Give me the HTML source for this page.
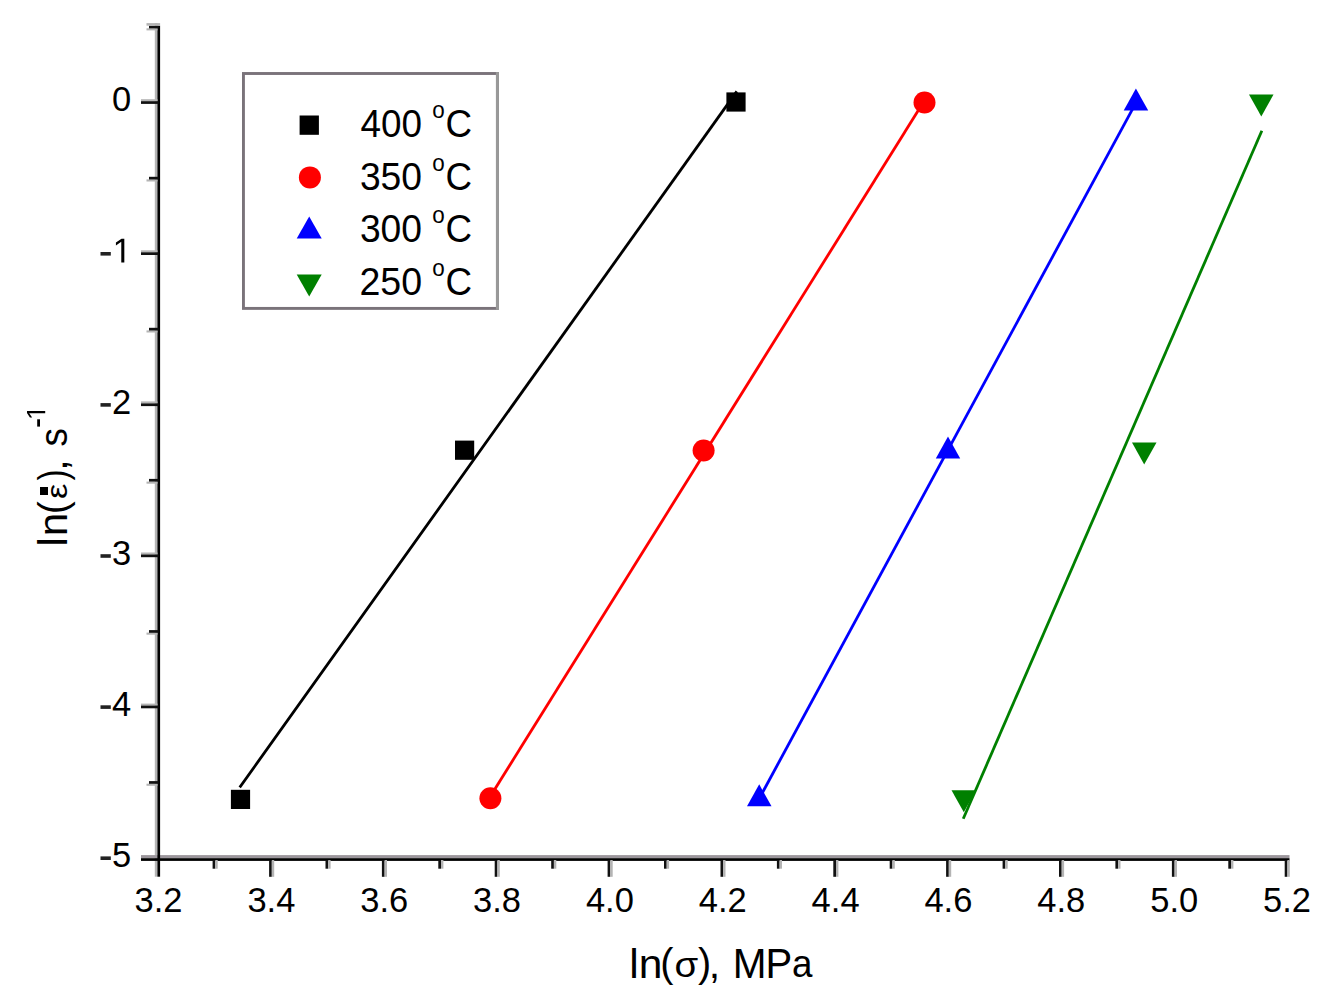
<!DOCTYPE html>
<html><head><meta charset="utf-8">
<style>
html,body{margin:0;padding:0;background:#fff;}
body{width:1330px;height:999px;overflow:hidden;position:relative;}
svg{position:absolute;left:0;top:0;}
text{font-family:"Liberation Sans",sans-serif;fill:#000;}
</style></head>
<body>
<svg width="1330" height="999" viewBox="0 0 1330 999">
<rect x="0" y="0" width="1330" height="999" fill="#fff"/>
<rect x="154.8" y="23" width="2.6" height="853.7" fill="#b4b4b4"/>
<rect x="141" y="855.1" width="1148.5" height="3.1" fill="#9c969c"/>
<rect x="157.4" y="25.7" width="2.7" height="851" fill="#000"/>
<rect x="141" y="858.2" width="1148.5" height="2.7" fill="#000"/>
<rect x="141" y="99.2" width="16.5" height="2.1" fill="#b4b4b4"/>
<rect x="141" y="101.2" width="17.5" height="2.7" fill="#111"/>
<rect x="141" y="250.3" width="16.5" height="2.1" fill="#b4b4b4"/>
<rect x="141" y="252.3" width="17.5" height="2.7" fill="#111"/>
<rect x="141" y="401.4" width="16.5" height="2.1" fill="#b4b4b4"/>
<rect x="141" y="403.4" width="17.5" height="2.7" fill="#111"/>
<rect x="141" y="552.5" width="16.5" height="2.1" fill="#b4b4b4"/>
<rect x="141" y="554.5" width="17.5" height="2.7" fill="#111"/>
<rect x="141" y="703.6" width="16.5" height="2.1" fill="#b4b4b4"/>
<rect x="141" y="705.6" width="17.5" height="2.7" fill="#111"/>
<rect x="146.5" y="28.3" width="11" height="2.1" fill="#b4b4b4"/>
<rect x="149" y="25.7" width="9.5" height="2.7" fill="#111"/>
<rect x="146.5" y="179.4" width="11" height="2.1" fill="#b4b4b4"/>
<rect x="149" y="176.8" width="9.5" height="2.7" fill="#111"/>
<rect x="146.5" y="330.4" width="11" height="2.1" fill="#b4b4b4"/>
<rect x="149" y="327.8" width="9.5" height="2.7" fill="#111"/>
<rect x="146.5" y="481.6" width="11" height="2.1" fill="#b4b4b4"/>
<rect x="149" y="478.9" width="9.5" height="2.7" fill="#111"/>
<rect x="146.5" y="632.6" width="11" height="2.1" fill="#b4b4b4"/>
<rect x="149" y="630.1" width="9.5" height="2.7" fill="#111"/>
<rect x="146.5" y="783.7" width="11" height="2.1" fill="#b4b4b4"/>
<rect x="149" y="781.1" width="9.5" height="2.7" fill="#111"/>
<rect x="146.5" y="23.1" width="13.6" height="2.6" fill="#b4b4b4"/>
<rect x="269.1" y="860" width="2.7" height="16.8" fill="#111"/>
<rect x="271.8" y="860" width="2.4" height="16.8" fill="#b4b4b4"/>
<rect x="381.9" y="860" width="2.7" height="16.8" fill="#111"/>
<rect x="384.6" y="860" width="2.4" height="16.8" fill="#b4b4b4"/>
<rect x="494.7" y="860" width="2.7" height="16.8" fill="#111"/>
<rect x="497.4" y="860" width="2.4" height="16.8" fill="#b4b4b4"/>
<rect x="607.6" y="860" width="2.7" height="16.8" fill="#111"/>
<rect x="610.3" y="860" width="2.4" height="16.8" fill="#b4b4b4"/>
<rect x="720.5" y="860" width="2.7" height="16.8" fill="#111"/>
<rect x="723.1" y="860" width="2.4" height="16.8" fill="#b4b4b4"/>
<rect x="833.3" y="860" width="2.7" height="16.8" fill="#111"/>
<rect x="836.0" y="860" width="2.4" height="16.8" fill="#b4b4b4"/>
<rect x="946.1" y="860" width="2.7" height="16.8" fill="#111"/>
<rect x="948.8" y="860" width="2.4" height="16.8" fill="#b4b4b4"/>
<rect x="1059.0" y="860" width="2.7" height="16.8" fill="#111"/>
<rect x="1061.7" y="860" width="2.4" height="16.8" fill="#b4b4b4"/>
<rect x="1171.9" y="860" width="2.7" height="16.8" fill="#111"/>
<rect x="1174.6" y="860" width="2.4" height="16.8" fill="#b4b4b4"/>
<rect x="1284.7" y="860" width="2.7" height="16.8" fill="#111"/>
<rect x="1287.4" y="860" width="2.4" height="16.8" fill="#b4b4b4"/>
<rect x="212.6" y="860" width="2.7" height="8.7" fill="#111"/>
<rect x="215.3" y="860" width="2.4" height="8.7" fill="#b4b4b4"/>
<rect x="325.5" y="860" width="2.7" height="8.7" fill="#111"/>
<rect x="328.2" y="860" width="2.4" height="8.7" fill="#b4b4b4"/>
<rect x="438.3" y="860" width="2.7" height="8.7" fill="#111"/>
<rect x="441.0" y="860" width="2.4" height="8.7" fill="#b4b4b4"/>
<rect x="551.2" y="860" width="2.7" height="8.7" fill="#111"/>
<rect x="553.9" y="860" width="2.4" height="8.7" fill="#b4b4b4"/>
<rect x="664.0" y="860" width="2.7" height="8.7" fill="#111"/>
<rect x="666.7" y="860" width="2.4" height="8.7" fill="#b4b4b4"/>
<rect x="776.9" y="860" width="2.7" height="8.7" fill="#111"/>
<rect x="779.6" y="860" width="2.4" height="8.7" fill="#b4b4b4"/>
<rect x="889.7" y="860" width="2.7" height="8.7" fill="#111"/>
<rect x="892.4" y="860" width="2.4" height="8.7" fill="#b4b4b4"/>
<rect x="1002.6" y="860" width="2.7" height="8.7" fill="#111"/>
<rect x="1005.3" y="860" width="2.4" height="8.7" fill="#b4b4b4"/>
<rect x="1115.4" y="860" width="2.7" height="8.7" fill="#111"/>
<rect x="1118.1" y="860" width="2.4" height="8.7" fill="#b4b4b4"/>
<rect x="1228.3" y="860" width="2.7" height="8.7" fill="#111"/>
<rect x="1231.0" y="860" width="2.4" height="8.7" fill="#b4b4b4"/>
<line x1="240.5" y1="786.25" x2="736.0" y2="92.55" stroke="#000" stroke-width="2.8" stroke-linecap="square"/>
<line x1="490.4" y1="796.24" x2="924.5" y2="100.51" stroke="#f00" stroke-width="2.8" stroke-linecap="square"/>
<line x1="759.2" y1="798.61" x2="1135.9" y2="102.81" stroke="#00f" stroke-width="2.8" stroke-linecap="square"/>
<line x1="963.8" y1="817.46" x2="1261.3" y2="132.02" stroke="#008000" stroke-width="2.8" stroke-linecap="square"/>
<rect x="230.9" y="789.8" width="19.2" height="19.2" fill="#000"/>
<rect x="455.0" y="440.6" width="19.2" height="19.2" fill="#000"/>
<rect x="726.4" y="92.4" width="19.2" height="19.2" fill="#000"/>
<circle cx="490.4" cy="798.3" r="11.0" fill="#f00"/>
<circle cx="703.6" cy="450.5" r="11.0" fill="#f00"/>
<circle cx="924.5" cy="102.5" r="11.0" fill="#f00"/>
<polygon points="759.2,784.3 771.5,806.3 747.0,806.3" fill="#00f"/>
<polygon points="948.0,436.5 960.2,458.5 935.8,458.5" fill="#00f"/>
<polygon points="1135.9,88.5 1148.2,110.5 1123.7,110.5" fill="#00f"/>
<polygon points="951.5,790.3 976.0,790.3 963.8,812.3" fill="#008000"/>
<polygon points="1132.0,442.5 1156.5,442.5 1144.2,464.5" fill="#008000"/>
<polygon points="1249.0,94.5 1273.5,94.5 1261.3,116.5" fill="#008000"/>
<text x="131.3" y="111.4" text-anchor="end" font-size="34.5">0</text>
<rect x="100.5" y="252.0" width="10.3" height="3.6" fill="#222"/>
<path transform="translate(112.60,262.50) scale(0.01685,-0.01685)" d="M515,0 L515,1237 L197,1010 L197,1180 L530,1409 L696,1409 L696,0 Z" fill="#000"/>
<rect x="100.5" y="403.1" width="10.3" height="3.6" fill="#222"/>
<text x="131.3" y="413.6" text-anchor="end" font-size="34.5">2</text>
<rect x="100.5" y="554.2" width="10.3" height="3.6" fill="#222"/>
<text x="131.3" y="564.7" text-anchor="end" font-size="34.5">3</text>
<rect x="100.5" y="705.3" width="10.3" height="3.6" fill="#222"/>
<text x="131.3" y="715.8" text-anchor="end" font-size="34.5">4</text>
<rect x="100.5" y="856.4" width="10.3" height="3.6" fill="#222"/>
<text x="131.3" y="866.9" text-anchor="end" font-size="34.5">5</text>
<text x="158.5" y="912.3" text-anchor="middle" font-size="34.5">3.2</text>
<text x="271.4" y="912.3" text-anchor="middle" font-size="34.5">3.4</text>
<text x="384.2" y="912.3" text-anchor="middle" font-size="34.5">3.6</text>
<text x="497.0" y="912.3" text-anchor="middle" font-size="34.5">3.8</text>
<text x="609.9" y="912.3" text-anchor="middle" font-size="34.5">4.0</text>
<text x="722.8" y="912.3" text-anchor="middle" font-size="34.5">4.2</text>
<text x="835.6" y="912.3" text-anchor="middle" font-size="34.5">4.4</text>
<text x="948.4" y="912.3" text-anchor="middle" font-size="34.5">4.6</text>
<text x="1061.3" y="912.3" text-anchor="middle" font-size="34.5">4.8</text>
<text x="1174.2" y="912.3" text-anchor="middle" font-size="34.5">5.0</text>
<text x="1287.0" y="912.3" text-anchor="middle" font-size="34.5">5.2</text>
<rect x="243.45" y="73.5" width="254" height="234.9" fill="none" stroke="#7a737a" stroke-width="2.9"/>
<rect x="495.9" y="72.05" width="3" height="237.8" fill="#999"/>
<rect x="299.6" y="115.5" width="19.3" height="19.3" fill="#000"/>
<circle cx="309.9" cy="177.4" r="11.0" fill="#f00"/>
<polygon points="309.2,216.5 321.7,238.5 296.7,238.5" fill="#00f"/>
<polygon points="296.7,274.4 321.7,274.4 309.2,296.4" fill="#008000"/>
<text transform="translate(360.45,137.22) scale(0.9609,1)" font-size="38.42">400</text>
<text transform="translate(432.26,118.07) scale(0.9534,1)" font-size="23.55">o</text>
<text transform="translate(445.43,137.22) scale(0.9577,1)" font-size="38.42">C</text>
<text transform="translate(359.88,189.82) scale(0.9700,1)" font-size="38.42">350</text>
<text transform="translate(432.26,170.67) scale(0.9534,1)" font-size="23.55">o</text>
<text transform="translate(445.43,189.82) scale(0.9577,1)" font-size="38.42">C</text>
<text transform="translate(359.88,242.42) scale(0.9700,1)" font-size="38.42">300</text>
<text transform="translate(432.26,223.27) scale(0.9534,1)" font-size="23.55">o</text>
<text transform="translate(445.43,242.42) scale(0.9577,1)" font-size="38.42">C</text>
<text transform="translate(359.41,295.02) scale(0.9775,1)" font-size="38.42">250</text>
<text transform="translate(432.26,275.87) scale(0.9534,1)" font-size="23.55">o</text>
<text transform="translate(445.43,295.02) scale(0.9577,1)" font-size="38.42">C</text>
<text transform="translate(629.23,977.60) scale(1.0386,1)" font-size="40.99">ln</text>
<text transform="translate(660.14,977.46) scale(0.9709,1)" font-size="40.79">(</text>
<text transform="translate(674.49,977.27) scale(1.1226,1)" font-size="34.20">σ</text>
<text transform="translate(698.07,977.46) scale(0.9709,1)" font-size="40.79">)</text>
<text transform="translate(708.82,978.35) scale(1.0000,1)" font-size="41.00">,</text>
<text transform="translate(732.78,977.60) scale(0.9448,1)" font-size="42.88">M</text>
<text transform="translate(765.62,977.60) scale(0.9333,1)" font-size="42.88">P</text>
<text transform="translate(792.04,977.22) scale(0.9419,1)" font-size="39.06">a</text>
<text transform="translate(67.20,546.49) rotate(-90) scale(1.0000,1)" font-size="41.40">l</text>
<text transform="translate(67.20,536.20) rotate(-90) scale(1.0449,1)" font-size="40.33">n</text>
<text transform="translate(66.83,514.13) rotate(-90) scale(0.9592,1)" font-size="40.90">(</text>
<text transform="translate(66.91,498.98) rotate(-90) scale(1.1629,1)" font-size="29.57">ε</text>
<rect x="40" y="487" width="8" height="8" fill="#000"/>
<text transform="translate(66.83,480.59) rotate(-90) scale(0.8116,1)" font-size="40.90">)</text>
<text transform="translate(67.35,470.68) rotate(-90) scale(1.0000,1)" font-size="41.00">,</text>
<text transform="translate(66.81,446.53) rotate(-90) scale(0.9340,1)" font-size="39.53">s</text>
<rect x="37.2" y="419.3" width="2.8" height="7.3" fill="#000"/>
<path transform="translate(45.2,419.94) rotate(-90) scale(0.01292,-0.01292)" d="M515,0 L515,1237 L197,1010 L197,1180 L530,1409 L696,1409 L696,0 Z" fill="#000"/>
</svg>
</body></html>
